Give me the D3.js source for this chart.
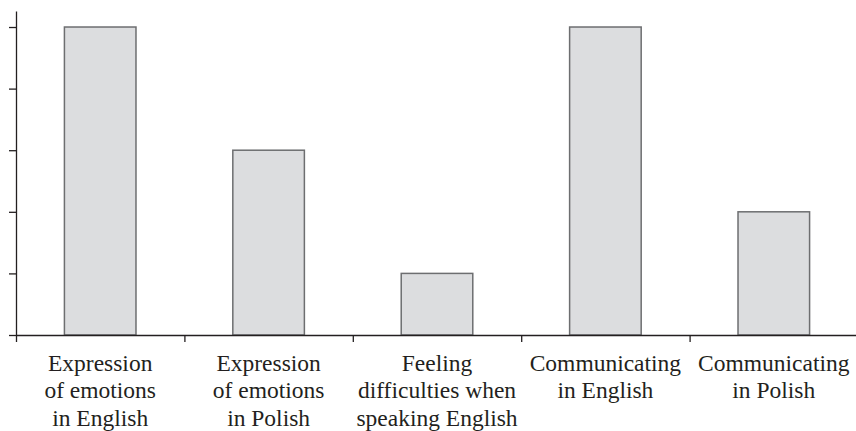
<!DOCTYPE html>
<html>
<head>
<meta charset="utf-8">
<script src="https://cdn.jsdelivr.net/npm/d3@7"></script>
</head>
<body style="margin:0">
<svg class="chart" width="856" height="431"></svg>
<script>
var categories = [
    ["Expression", "of emotions", "in English"],
    ["Expression", "of emotions", "in Polish"],
    ["Feeling", "difficulties when", "speaking English"],
    ["Communicating", "in English"],
    ["Communicating", "in Polish"]
];
var values = [5, 3, 1, 5, 2];
var yTicks = [0, 1, 2, 3, 4, 5];

function show() {
    'use strict';

    var width = 856, height = 431;
    var margin = { left: 16, right: 858, top: 11, bottom: 335 };

    var chart = d3.select(".chart")
        .attr("width", width)
        .attr("height", height);

    var x = d3.scaleBand()
        .domain(d3.range(categories.length))
        .range([margin.left, margin.right]);

    var edges = d3.scaleLinear()
        .domain([0, categories.length])
        .range([margin.left, margin.right]);

    var y = d3.scaleLinear()
        .domain([0, 5.26])
        .range([margin.bottom, margin.top]);

    var barWidth = x.bandwidth() * 0.425;

    chart.selectAll("rect.bar").data(values)
      .enter().append("rect")
        .attr("class", "bar")
        .attr("x", (d, i) => x(i) + (x.bandwidth() - barWidth) / 2)
        .attr("y", d => y(d))
        .attr("width", barWidth)
        .attr("height", d => y(0) - y(d))
        .attr("fill", "#dcdddf")
        .attr("stroke", "#6d6e70")
        .attr("stroke-width", 1.5);

    // y axis, no labels
    var yAxis = chart.append("g")
        .attr("transform", "translate(" + margin.left + ",0)")
        .call(d3.axisLeft(y).tickValues(yTicks).tickFormat("").tickSize(7).tickSizeOuter(0));

    // x axis ticks at band edges
    var xAxis = chart.append("g")
        .attr("transform", "translate(0," + margin.bottom + ")")
        .call(d3.axisBottom(edges).ticks(categories.length).tickFormat("").tickSize(7).tickSizeOuter(0));

    [yAxis, xAxis].forEach(function (g) {
        g.attr("font-family", null).attr("font-size", null);
        g.selectAll("text").remove();
        g.selectAll("path, line").attr("stroke", "#231f20").attr("stroke-width", 1.3);
    });

    // category names, one text per line, centred by measured width
    categories.forEach(function (lines, i) {
        var cx = x(i) + x.bandwidth() / 2;
        chart.selectAll(null).data(lines)
          .enter().append("text")
            .attr("y", (t, j) => 370.5 + j * 27.6)
            .attr("fill", "#231f20")
            .style("font-family", "'Liberation Serif'")
            .style("font-size", "23.5px")
            .text(t => t)
            .attr("x", function () { return cx - this.getComputedTextLength() / 2; });
    });
}
show();
</script>
</body>
</html>
